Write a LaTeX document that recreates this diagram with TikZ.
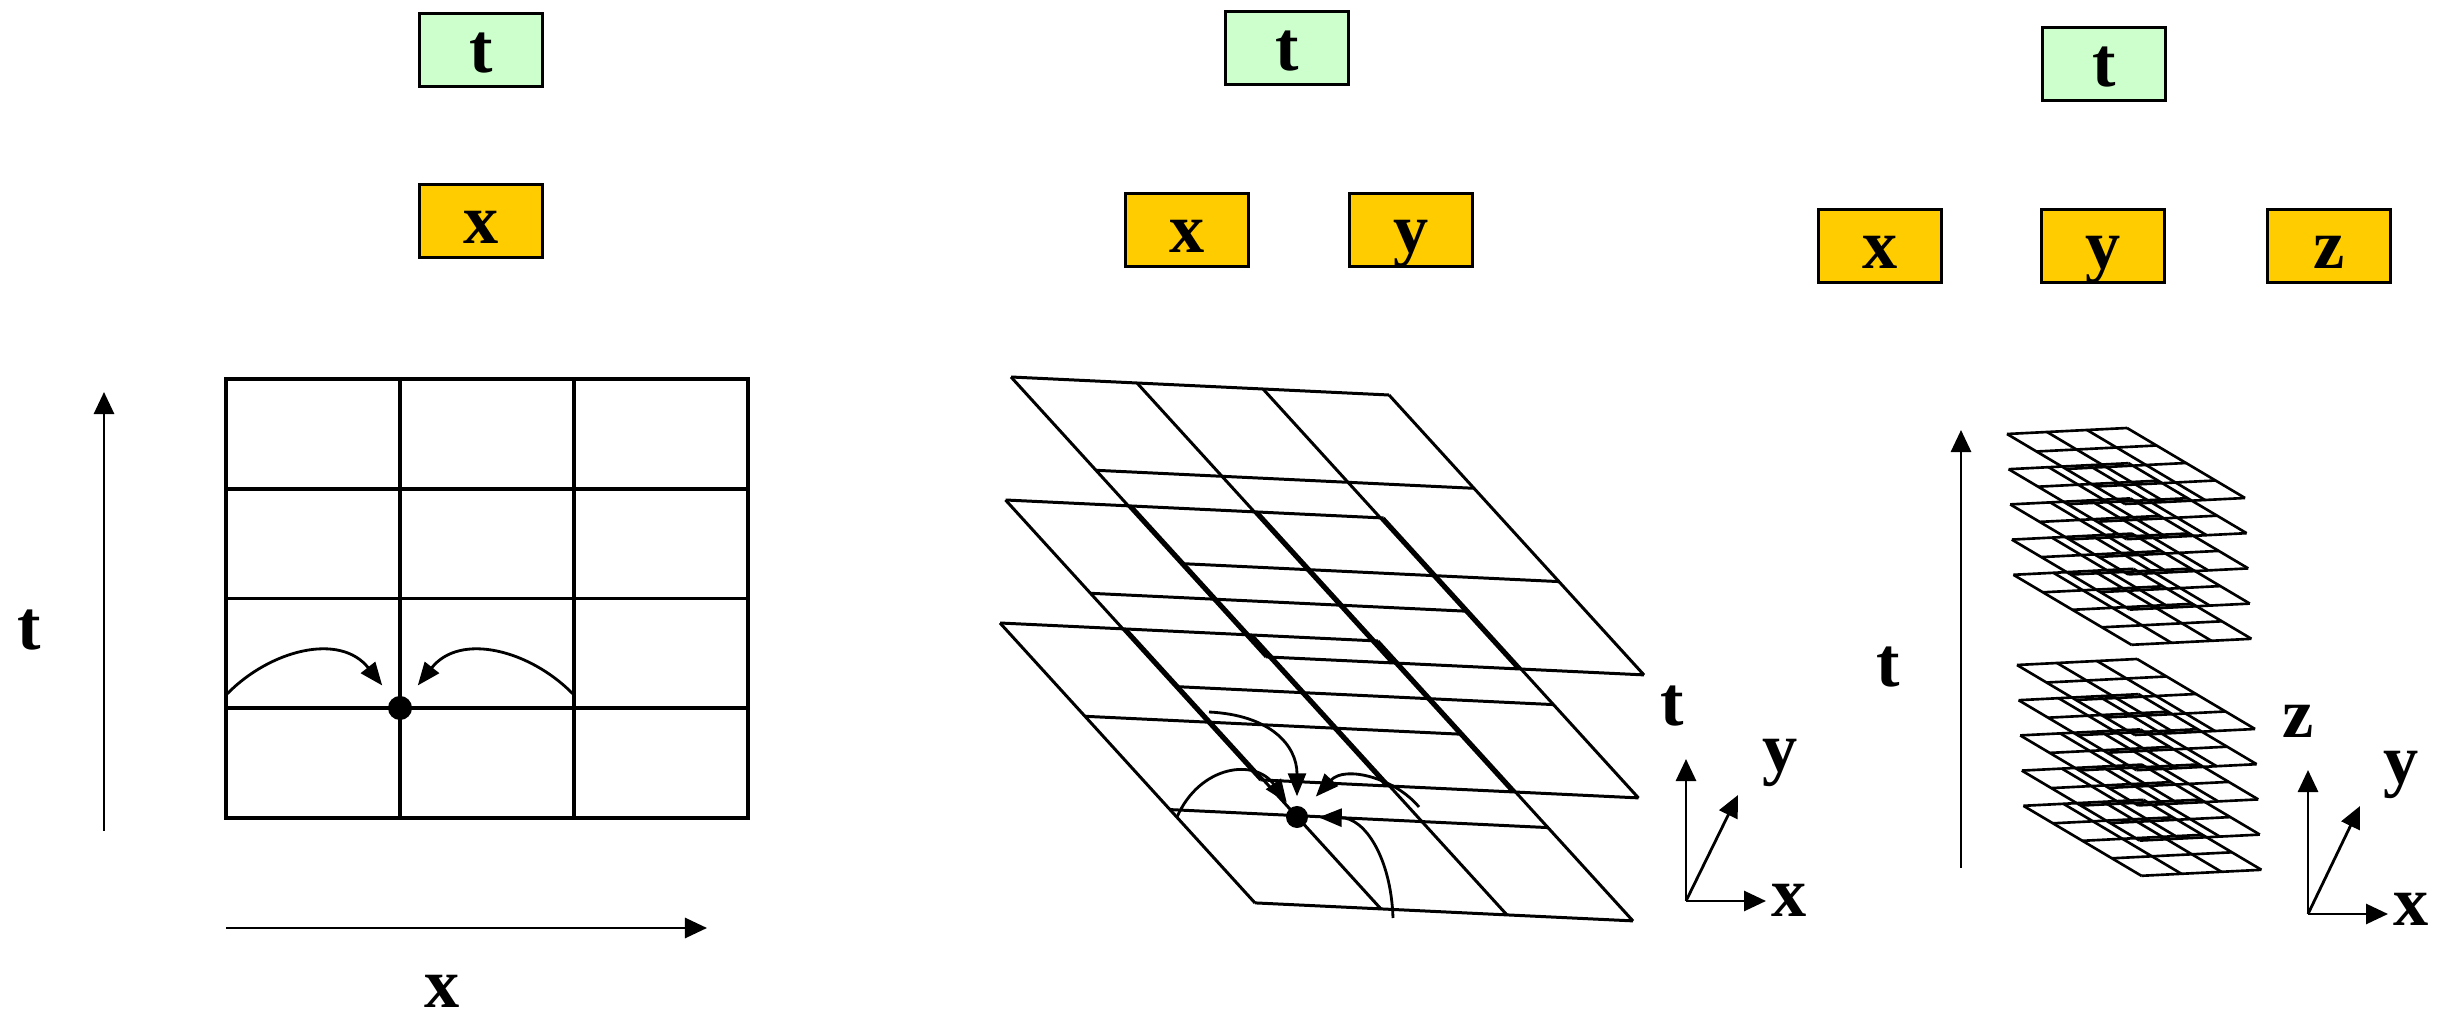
\documentclass[tikz,border=0pt]{standalone}
\usepackage{fontspec}
\setmainfont{Liberation Serif}
\usetikzlibrary{arrows.meta}
\definecolor{tGreen}{RGB}{204,255,204}
\definecolor{sGold}{RGB}{255,204,0}

\begin{document}
\begin{tikzpicture}[
    x=0.01cm, y=-0.01cm,
    varbox/.style={rectangle, draw=black, line width=0.9pt, minimum width=1.23cm, minimum height=0.73cm, text height=0.59cm, text depth=0.14cm, inner sep=0pt, font=\fontsize{20}{24}\selectfont\bfseries},
    tvar/.style={varbox, fill=tGreen},
    svar/.style={varbox, fill=sGold},
    axlabel/.style={inner sep=0pt, font=\fontsize{20}{24}\selectfont\bfseries},
    axis/.style={-{Triangle[length=2.2mm, width=2mm]}, line width=0.8pt},
    flow/.style={-{Triangle[length=2.3mm, width=1.8mm]}, line width=0.8pt},
    cell/.style={line width=1.1pt},
    mesh/.style={line width=0.85pt},
    fine/.style={line width=0.75pt},
    point/.style={circle, fill=black, inner sep=0pt, minimum size=0.24cm}
]
\useasboundingbox (0,0) rectangle (2445,1019);

% Panel 1: t and x
\node[tvar] (t1) at (481,50) {t};
\node[svar] (x1) at (481,221) {x};

\draw[cell] (226,379) rectangle (748,818);
\foreach \i in {1,2}
    \draw[cell] ({226+174*\i},379) -- ++(0,439);
\foreach \j in {1,2,3}
    \draw[cell] (226,{379+109.75*\j}) -- ++(522,0);

\node[point] (dot1) at (400,708) {};
\coordinate (l1) at (227,694);
\coordinate (r1) at (573,694);
\draw[flow, shorten >=1.6mm] (l1) .. controls (270,650) and (340,632) .. (dot1);
\draw[flow, shorten >=1.6mm] (r1) .. controls (530,650) and (460,632) .. (dot1);

\coordinate (t1a) at (104,831);
\coordinate (t1b) at (104,392);
\coordinate (x1a) at (226,928);
\coordinate (x1b) at (707,928);
\draw[axis] (t1a) -- (t1b);
\draw[axis] (x1a) -- (x1b);
\node[axlabel] (tl1) at (29,630) {t};
\node[axlabel] (xl1) at (442,991) {x};

% Panel 2: t, x and y
\node[tvar] (t2) at (1287,48) {t};
\node[svar] (x2) at (1187,230) {x};
\node[svar] (y2) at (1411,230) {y};

\foreach \k in {0,1,2} {
    \begin{scope}[shift={({1011-5.5*\k},{377+123*\k})}]
        \foreach \i in {0,...,3}
            \draw[mesh] ({126*\i},{6*\i}) -- ++(255,280);
        \foreach \j in {0,...,3}
            \draw[mesh] ({85*\j},{93.3*\j}) -- ++(378,18);
    \end{scope}
}

\node[point, minimum size=0.22cm] (dot2) at (1297,817) {};
\coordinate (n1) at (1177,817);
\coordinate (n2) at (1209,712);
\coordinate (n3) at (1419,807);
\coordinate (n4) at (1393,918);
\draw[flow, shorten >=0.6mm] (n1) .. controls (1200,765) and (1255,758) .. (dot2);
\draw[flow, shorten >=0.9mm] (n2) .. controls (1270,715) and (1297,745) .. (dot2);
\draw[flow, shorten >=1.6mm] (n3) .. controls (1395,778) and (1345,765) .. (dot2);
\draw[flow, shorten >=1mm] (n4) .. controls (1391,858) and (1365,818) .. (dot2);

\coordinate (o2) at (1686,901);
\coordinate (o2t) at (1686,759);
\coordinate (o2x) at (1766,901);
\coordinate (o2y) at (1738,795);
\draw[axis] (o2) -- (o2t);
\draw[axis] (o2) -- (o2x);
\draw[axis] (o2) -- (o2y);
\node[axlabel] (tl2) at (1672,706) {t};
\node[axlabel] (yl2) at (1780,763) {y};
\node[axlabel] (xl2) at (1789,900) {x};

% Panel 3: t, x, y and z
\node[tvar] (t3) at (2104,64) {t};
\node[svar] (x3) at (1880,246) {x};
\node[svar] (y3) at (2103,246) {y};
\node[svar] (z3) at (2329,246) {z};

\foreach \bx/\by in {2007/434, 2017/665}
    \foreach \k in {0,...,4} {
        \begin{scope}[shift={({\bx+1.6*\k},{\by+35.2*\k})}]
            \foreach \i in {0,...,3}
                \draw[fine] ({40*\i},{-2*\i}) -- ++(118,70);
            \foreach \j in {0,...,4}
                \draw[fine] ({29.5*\j},{17.5*\j}) -- ++(120,-6);
        \end{scope}
    }

\coordinate (t3a) at (1961,868);
\coordinate (t3b) at (1961,430);
\draw[axis] (t3a) -- (t3b);
\node[axlabel] (tl3) at (1888,667) {t};

\coordinate (o3) at (2308,914);
\coordinate (o3z) at (2308,770);
\coordinate (o3x) at (2388,914);
\coordinate (o3y) at (2360,806);
\draw[axis] (o3) -- (o3z);
\draw[axis] (o3) -- (o3x);
\draw[axis] (o3) -- (o3y);
\node[axlabel] (zl3) at (2298,721) {z};
\node[axlabel] (yl3) at (2401,775) {y};
\node[axlabel] (xl3) at (2411,909) {x};
\end{tikzpicture}
\end{document}
